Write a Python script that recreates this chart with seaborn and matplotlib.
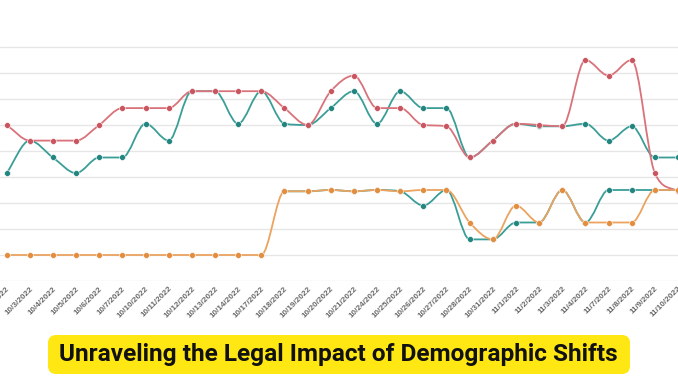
import numpy as np
import pandas as pd
import seaborn as sns
import matplotlib.pyplot as plt
from matplotlib.patches import FancyBboxPatch, PathPatch
from matplotlib.path import Path

# --- Data (one value per business day) ---
dates = ["9/30/2022", "10/3/2022", "10/4/2022", "10/5/2022", "10/6/2022", "10/7/2022",
         "10/10/2022", "10/11/2022", "10/12/2022", "10/13/2022", "10/14/2022",
         "10/17/2022", "10/18/2022", "10/19/2022", "10/20/2022", "10/21/2022",
         "10/24/2022", "10/25/2022", "10/26/2022", "10/27/2022", "10/28/2022",
         "10/31/2022", "11/1/2022", "11/2/2022", "11/3/2022", "11/4/2022",
         "11/7/2022", "11/8/2022", "11/9/2022", "11/10/2022"]

red = [6.0, 5.4, 5.4, 5.4, 6.0, 6.65, 6.65, 6.65, 7.3, 7.3, 7.3, 7.3, 6.65, 6.0, 7.3,
       7.9, 6.65, 6.65, 6.0, 5.95, 4.75, 5.4, 6.05, 6.0, 5.95, 8.5, 7.9, 8.5, 4.15, 3.45]
teal_upper = [4.15, 5.4, 4.75, 4.15, 4.75, 4.75, 6.05, 5.4, 7.3, 7.3, 6.05, 7.3, 6.05, 6.0, 6.65,
              7.3, 6.05, 7.3, 6.65, 6.65, 4.75, 5.4, 6.05, 5.95, 5.95, 6.05, 5.4, 5.95, 4.75, 4.75]
teal_lower = [np.nan] * 12 + [3.45, 3.45, 3.5, 3.45, 3.5, 3.45, 2.9, 3.5, 1.6, 1.6, 2.25, 2.25,
                              3.5, 2.25, 3.5, 3.5, 3.5, 3.5]
orange = [1.0] * 12 + [3.45, 3.45, 3.5, 3.45, 3.5, 3.45, 3.5, 3.5, 2.25, 1.6, 2.9, 2.25,
                       3.5, 2.25, 2.25, 2.25, 3.5, 3.5]

title = "Unraveling the Legal Impact of Demographic Shifts"

# --- Styling ---
LINE_COLORS = {"Teal A": "#3a9e97", "Teal B": "#3a9e97", "Red": "#d9727a", "Orange": "#eba35f"}
DOT_COLORS = {"Teal A": "#23857f", "Teal B": "#23857f", "Red": "#c95560", "Orange": "#e38d3e"}


def monotone_path(x, y):
    """Cubic bezier path through the points, monotone tangents (no overshoot)."""
    x = np.asarray(x, float)
    y = np.asarray(y, float)
    n = len(x)
    d = np.diff(y) / np.diff(x)
    m = np.zeros(n)
    m[0], m[-1] = d[0], d[-1]
    for i in range(1, n - 1):
        if d[i - 1] * d[i] <= 0:
            m[i] = 0.0
        else:
            m[i] = (d[i - 1] + d[i]) / 2
    for i in range(n - 1):
        if d[i] == 0:
            m[i] = m[i + 1] = 0.0
            continue
        a, b = m[i] / d[i], m[i + 1] / d[i]
        s = a * a + b * b
        if s > 9:
            t = 3 / np.sqrt(s)
            m[i], m[i + 1] = t * a * d[i], t * b * d[i]
    verts = [(x[0], y[0])]
    codes = [Path.MOVETO]
    for i in range(n - 1):
        h = (x[i + 1] - x[i]) / 3
        verts += [(x[i] + h, y[i] + m[i] * h), (x[i + 1] - h, y[i + 1] - m[i + 1] * h),
                  (x[i + 1], y[i + 1])]
        codes += [Path.CURVE4] * 3
    return Path(verts, codes)


sns.set_style("white")
plt.rcParams['font.family'] = ['Liberation Sans', 'DejaVu Sans']

df = pd.DataFrame({"idx": np.arange(len(dates)), "date": dates,
                   "Teal A": teal_upper, "Teal B": teal_lower,
                   "Red": red, "Orange": orange})
long_df = df.melt(id_vars=["idx", "date"], var_name="series", value_name="value")

fig = plt.figure(figsize=(6.78, 3.81), dpi=100)
ax = fig.add_axes([0, 100 / 381, 1, 260 / 381])

# draw order: teal lines first, red and orange on top
for k, name in enumerate(["Teal A", "Teal B", "Red", "Orange"]):
    sub = long_df[(long_df["series"] == name)].dropna()
    curve = PathPatch(monotone_path(sub["idx"], sub["value"]), facecolor="none",
                      edgecolor=LINE_COLORS[name], linewidth=1.3, zorder=2 + k)
    ax.add_patch(curve)
    sns.scatterplot(data=sub, x="idx", y="value", ax=ax, color=DOT_COLORS[name],
                    s=18, edgecolor="white", linewidth=0.4, legend=False, zorder=2.5 + k)

# axes formatting
ax.set_xlim(-0.286, 28.69)
ax.set_ylim(0, 10)
ax.set_yticks(range(0, 10))
ax.set_yticklabels([])
ax.tick_params(axis="y", length=0)
ax.grid(axis="y", color="#e6e6e6", linewidth=1.0)
ax.grid(axis="x", visible=False)
ax.set_axisbelow(True)
for sp in ax.spines.values():
    sp.set_visible(False)
ax.set_xlabel("")
ax.set_ylabel("")
ax.set_xticks(df["idx"])
ax.set_xticklabels(df["date"], rotation=45, ha="right", rotation_mode="anchor",
                   fontsize=5.9, color="#6a6a6a", fontweight="bold")
ax.tick_params(axis="x", length=0, pad=3)

# yellow title banner
banner = FancyBboxPatch((48 / 678, 7 / 381), 582 / 678, 39 / 381,
                        boxstyle="round,pad=0,rounding_size=0.012",
                        transform=fig.transFigure, facecolor="#ffe714",
                        edgecolor="none", mutation_aspect=678 / 381)
fig.patches.append(banner)
fig.text(338 / 678, 26 / 381, title, ha="center", va="center", fontsize=17.6,
         fontweight="bold", color="#111111", family=["Roboto", "DejaVu Sans"])

fig.savefig("out.png", dpi=100)
